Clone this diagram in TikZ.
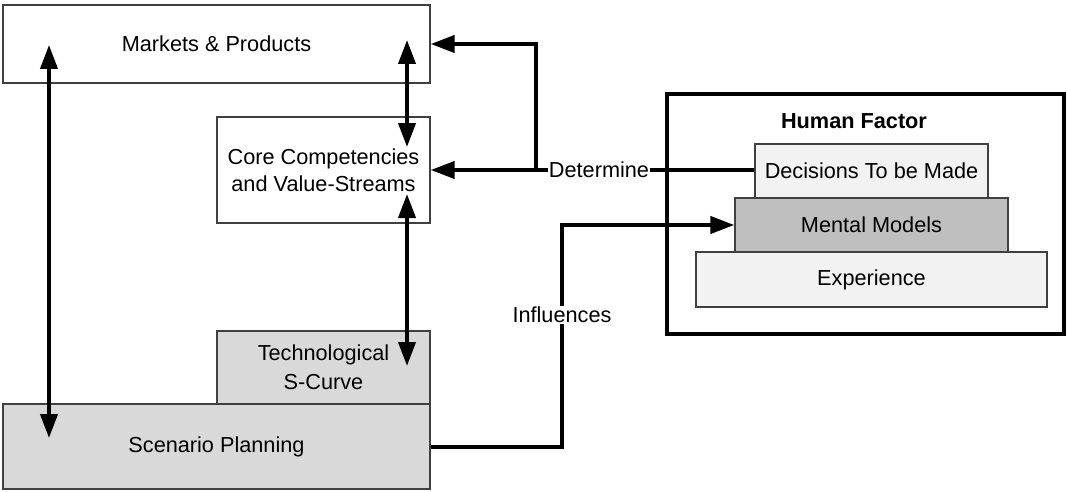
\documentclass[tikz,border=0pt]{standalone}
\usepackage{fontspec}
\setmainfont{Liberation Sans}
\usetikzlibrary{arrows.meta,calc}
\definecolor{edge}{HTML}{404040}
\definecolor{lightfill}{HTML}{F2F2F2}
\definecolor{midfill}{HTML}{D9D9D9}
\definecolor{darkfill}{HTML}{BFBFBF}
\tikzset{
  box/.style={draw=edge,line width=1.3pt,inner sep=0pt,align=center,
    font=\fontsize{21.7}{27}\selectfont},
  link/.style={line width=4pt,-{Triangle[length=24pt,width=17pt]}},
  twoway/.style={line width=4pt,{Triangle[length=24pt,width=17pt]}-{Triangle[length=24pt,width=17pt]}},
  tag/.style={fill=white,inner sep=1pt,font=\fontsize{21.7}{27}\selectfont}
}
\begin{document}
\begin{tikzpicture}[x=1pt,y=-1pt]
\useasboundingbox (0,0) rectangle (1067,492);

% left column of boxes
\node[box,fill=white,minimum width=427pt,minimum height=78pt] (mk) at (216.5,44) {Markets \& Products};
\node[box,fill=white,minimum width=213pt,minimum height=106pt] (core) at (323.5,170) {Core Competencies\\and Value-Streams};
\node[box,fill=midfill,minimum width=213pt,minimum height=73pt,font=\fontsize{21.7}{29}\selectfont] (tech) at (323.5,367.5) {Technological\\S-Curve};
\node[box,fill=midfill,minimum width=427pt,minimum height=85pt] (scen) at (216.5,446.5) {Scenario Planning};

% human factor stack
\node[draw=black,line width=4pt,minimum width=397pt,minimum height=240pt,inner sep=0pt] (hf) at (865.5,214) {};
\node[font=\bfseries\fontsize{21.7}{27}\selectfont] (hft) at (854,121) {Human Factor};
\node[box,fill=lightfill,minimum width=233pt,minimum height=54pt] (dec) at (871.5,171) {Decisions To be Made};
\node[box,fill=darkfill,minimum width=273pt,minimum height=54pt] (mm) at (871.5,225) {Mental Models};
\node[box,fill=lightfill,minimum width=351pt,minimum height=55pt] (exp) at (871.5,279.5) {Experience};

% tips of the two-way arrows
\coordinate (l1) at (49,45);
\coordinate (l2) at (49,438);
\coordinate (r1) at (407,40);
\coordinate (r2) at (407,147);
\coordinate (r3) at (407,194);
\coordinate (r4) at (407,366);
\draw[twoway] (l1) -- (l2);
\draw[twoway] (r1) -- (r2);
\draw[twoway] (r3) -- (r4);

% Determine
\coordinate (split) at (536,170);
\coordinate (mkin) at (mk.east |- 0,44);
\draw[link] (dec.west |- split) -- (core.east |- split);
\draw[link] (split) |- (mkin);
\node[tag] (det) at (599,170) {Determine};

% Influences
\coordinate (bend1) at (562,447);
\coordinate (bend2) at (562,225);
\draw[link] (scen.east |- bend1) -- (bend1) -- (bend2) -- (mm.west |- bend2);
\node[tag] (inf) at (562,315) {Influences};
\end{tikzpicture}
\end{document}
